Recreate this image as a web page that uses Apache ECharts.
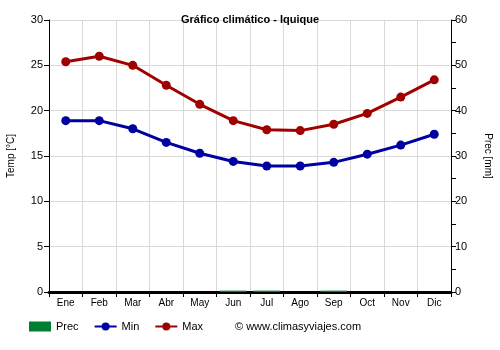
<!DOCTYPE html>
<html><head><meta charset="utf-8">
<script src="https://cdn.jsdelivr.net/npm/echarts@6/dist/echarts.min.js"></script>
<style>html,body{margin:0;padding:0;background:#fff}#c{width:500px;height:350px}</style>
</head><body><div id="c"></div>
<script>
const months = ['Ene','Feb','Mar','Abr','May','Jun','Jul','Ago','Sep','Oct','Nov','Dic'];
const prec = [0, 0, 0, 0, 0, 0.3, 0.3, 0, 0.3, 0, 0, 0];
const tMin = [18.9, 18.9, 18.0, 16.5, 15.3, 14.4, 13.9, 13.9, 14.3, 15.2, 16.2, 17.4];
const tMax = [25.4, 26.0, 25.0, 22.8, 20.7, 18.9, 17.9, 17.8, 18.5, 19.7, 21.5, 23.4];

const chart = echarts.init(document.getElementById('c'), null, {renderer:'canvas'});
const font = 'Arial, "Liberation Sans", sans-serif';
chart.setOption({
  animation:false,
  title:{text:'Gráfico climático - Iquique', left:'center', top:9,
    textStyle:{fontSize:11, fontWeight:'bold', color:'#000', fontFamily:font}},
  grid:{left:49, right:49, top:20, bottom:58, containLabel:false, outerBoundsMode:'none'},
  legend:{bottom:13, left:24, itemGap:15, itemWidth:22, itemHeight:10,
    textStyle:{fontSize:11, color:'#000', fontFamily:font},
    data:[{name:'Prec', icon:'rect'},{name:'Min'},{name:'Max'}]},
  graphic:[{type:'text', left:235, bottom:18,
    style:{text:'© www.climasyviajes.com', fontSize:11, fill:'#000', font:'11px '+font}}],
  xAxis:{type:'category', data:months, boundaryGap:true,
    axisLine:{lineStyle:{color:'#000', width:3}},
    axisTick:{show:true, length:5, lineStyle:{color:'#000'}},
    splitLine:{show:true, lineStyle:{color:'#d9d9d9'}},
    axisLabel:{fontSize:10, color:'#000', fontFamily:font, margin:6}},
  yAxis:[
    {type:'value', min:0, max:30, interval:5, name:'Temp [°C]', nameLocation:'middle', nameGap:33,
     nameTextStyle:{fontSize:10, color:'#000', fontFamily:font},
     axisLine:{show:true, lineStyle:{color:'#000'}},
     axisTick:{show:true, length:5, lineStyle:{color:'#000'}},
     splitLine:{show:true, lineStyle:{color:'#d9d9d9'}},
     axisLabel:{fontSize:11, color:'#000', fontFamily:font, margin:6}},
    {type:'value', min:0, max:60, interval:5, name:'Prec [mm]', nameLocation:'middle', nameGap:32,
     nameRotate:-90,
     nameTextStyle:{fontSize:10, color:'#000', fontFamily:font},
     axisLine:{show:true, lineStyle:{color:'#000'}},
     axisTick:{show:true, length:5, lineStyle:{color:'#000'}},
     splitLine:{show:false},
     axisLabel:{fontSize:11, color:'#000', fontFamily:font, margin:4,
       formatter:v=> v%10===0 ? String(v) : ''}}
  ],
  series:[
    {name:'Prec', type:'bar', yAxisIndex:1, data:prec, barWidth:'80%', z:5,
     itemStyle:{color:'#007f32'}},
    {name:'Min', type:'line', yAxisIndex:0, data:tMin, symbol:'circle', symbolSize:9,
     lineStyle:{color:'#0000a0', width:3}, itemStyle:{color:'#0000a0'}},
    {name:'Max', type:'line', yAxisIndex:0, data:tMax, symbol:'circle', symbolSize:9,
     lineStyle:{color:'#a00000', width:3}, itemStyle:{color:'#a00000'}}
  ]
});
</script></body></html>
